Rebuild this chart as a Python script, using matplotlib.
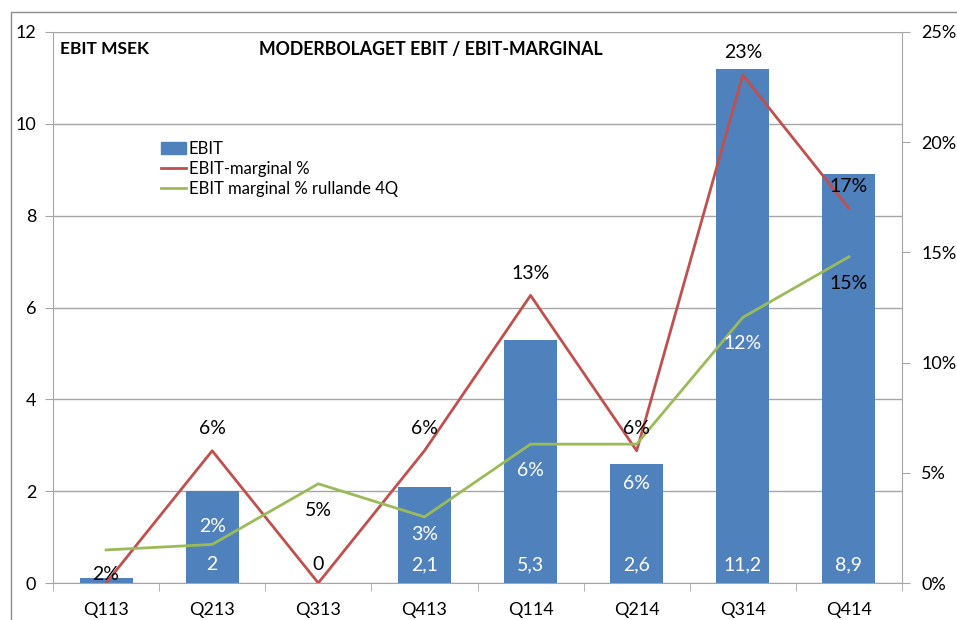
import matplotlib
matplotlib.use("Agg")
import matplotlib.pyplot as plt
from matplotlib.patches import Rectangle, Patch
from matplotlib.ticker import FuncFormatter

# ── Data ──────────────────────────────────────────────────────────────────────
quarters    = ["Q113", "Q213", "Q313", "Q413", "Q114", "Q214", "Q314", "Q414"]
ebit        = [0.1, 2.0, 0.0, 2.1, 5.3, 2.6, 11.2, 8.9]
ebit_labels = ["", "2", "0", "2,1", "5,3", "2,6", "11,2", "8,9"]
margin      = [0.0, 6.0, 0.0, 6.0, 13.05, 6.0, 23.05, 17.0]
margin_lbl  = ["", "6%", "", "6%", "13%", "6%", "23%", "17%"]
rolling     = [1.5, 1.75, 4.5, 3.0, 6.3, 6.3, 12.05, 14.8]
rolling_lbl = ["2%", "2%", "5%", "3%", "6%", "6%", "12%", "15%"]

# ── Style ─────────────────────────────────────────────────────────────────────
BLUE, RED, GREEN = "#4F81BD", "#C0504D", "#9BBB59"
GRID = "#A6A6A6"
LBL = 14
plt.rcParams["font.family"] = ["Lato", "DejaVu Sans"]

W, H = 957, 620
fig = plt.figure(figsize=(W / 100, H / 100), dpi=100)
ax = fig.add_axes([53 / W, 1 - 583 / H, (902 - 53) / W, (583 - 32) / H])
ax2 = ax.twinx()

# outer chart border (only top/left visible in the crop)
fig.patches.append(Rectangle((11 / W, -0.1), 1.2, 1 - 12 / H + 0.1,
                             transform=fig.transFigure, fill=False,
                             edgecolor="#8C8C8C", linewidth=1.0))

x = list(range(len(quarters)))

# ── Bars (left axis) ──────────────────────────────────────────────────────────
ax.bar(x, ebit, width=0.5, color=BLUE, zorder=2)
ax.set_xlim(-0.5, len(quarters) - 0.5)
ax.set_ylim(0, 12)
ax.set_yticks(range(0, 13, 2))
ax.yaxis.grid(True, color=GRID, linewidth=1.0, zorder=0)
ax.set_axisbelow(True)
ax.set_xticks(x)
ax.set_xticklabels(quarters)
ax.set_xticks([i + 0.5 for i in range(-1, len(quarters))], minor=True)
ax.tick_params(axis="x", which="major", length=0, pad=14, labelsize=13)
ax.tick_params(axis="x", which="minor", length=6, color=GRID)
ax.tick_params(axis="y", length=6, color=GRID, labelsize=13, pad=6)

for sp in ["left", "bottom", "right"]:
    ax.spines[sp].set_color(GRID)
ax.spines["top"].set_visible(False)

for xi, v, lab in zip(x, ebit, ebit_labels):
    if lab:
        col = "black" if v == 0 else "white"
        ax.annotate(lab, (xi, 0), xytext=(0, 13), textcoords="offset points",
                    ha="center", va="center", color=col, fontsize=LBL, zorder=5)

# ── Lines (right axis) ────────────────────────────────────────────────────────
ax2.plot(x, margin, color=RED, linewidth=2.0, label="EBIT-marginal %", zorder=3)
ax2.plot(x, rolling, color=GREEN, linewidth=2.0,
         label="EBIT marginal % rullande 4Q", zorder=3)
ax2.set_ylim(0, 25)
ax2.set_yticks(range(0, 26, 5))
ax2.yaxis.set_major_formatter(FuncFormatter(lambda v, p: f"{v:.0f}%"))
ax2.tick_params(axis="y", length=6, color=GRID, labelsize=13, pad=8)
for sp in ["left", "bottom", "right", "top"]:
    ax2.spines[sp].set_visible(False)

# red line labels sit above the points
for xi, v, lab in zip(x, margin, margin_lbl):
    if lab:
        ax2.annotate(lab, (xi, v), xytext=(0, 16), textcoords="offset points",
                     ha="center", va="center", fontsize=LBL, color="black")

# green line labels below the points; white when inside a bar
roll_off   = [-18, 13, -19, -13, -19, -28, -19, -19]
roll_white = [False, True, False, True, True, True, True, False]
for xi, v, lab, off, wh in zip(x, rolling, rolling_lbl, roll_off, roll_white):
    ax2.annotate(lab, (xi, v), xytext=(0, off), textcoords="offset points",
                 ha="center", va="center", fontsize=LBL,
                 color="white" if wh else "black", zorder=5)

# ── Titles and legend ─────────────────────────────────────────────────────────
fig.text(60 / W, 1 - 49 / H, "EBIT MSEK", fontsize=12.5, fontweight="bold",
         ha="left", va="center")
fig.text(431 / W, 1 - 49 / H, "MODERBOLAGET EBIT / EBIT-MARGINAL", fontsize=12.8,
         fontweight="bold", ha="center", va="center")

handles = [Patch(color=BLUE)] + ax2.get_legend_handles_labels()[0]
labels = ["EBIT"] + ax2.get_legend_handles_labels()[1]
fig.legend(handles, labels, loc="upper left", bbox_to_anchor=(154 / W, 1 - 134 / H),
           frameon=False, fontsize=12, handlelength=1.5, handletextpad=0.2,
           labelspacing=0.25, borderaxespad=0)

fig.savefig("out.png", dpi=100)
